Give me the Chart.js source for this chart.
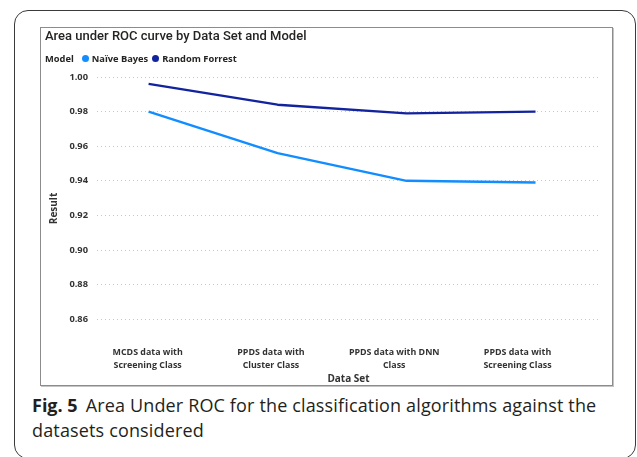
<!DOCTYPE html>
<html>
<head>
<meta charset="utf-8">
<script src="https://cdn.jsdelivr.net/npm/chart.js@4/dist/chart.umd.min.js"></script>
<style>
  html, body { margin: 0; padding: 0; background: #fff; }
  body { width: 637px; height: 457px; position: relative; overflow: hidden; }
  #figure {
    position: absolute; left: 14px; top: 10px; width: 622px; height: 449px;
    border: 1.4px solid #3a3a3a; border-radius: 14px; box-sizing: border-box;
  }
  #panel {
    position: absolute; left: 40px; top: 27px; width: 573px; height: 359px;
    border: 1px solid #8c8c8c; box-shadow: 1px 1px 0 #c4c4c4; box-sizing: border-box;
    background: #fff;
  }
  #title {
    position: absolute; left: 4px; top: 0px;
    font: 500 13px Roboto, sans-serif; color: #252423; white-space: nowrap;
  }
  #legend {
    position: absolute; left: 4px; top: 24px; display: flex; align-items: center;
    font: 700 9.3px "Open Sans", sans-serif; color: #252423; white-space: nowrap;
  }
  #legend .item { display: flex; align-items: center; margin-left: 4px; }
  #legend .dot { width: 7px; height: 7px; border-radius: 50%; margin-right: 3px; }
  #chart { position: absolute; left: 0; top: 0; }
  #caption {
    position: absolute; left: 32px; top: 393px; width: 600px;
    font: 400 18px "Open Sans", sans-serif; color: #231f20; line-height: 25px;
    letter-spacing: 0.15px;
  }
  #caption b { font-weight: 700; margin-right: 8px; letter-spacing: 0; }
</style>
</head>
<body>
<div id="figure"></div>
<div id="panel">
  <canvas id="chart" width="571" height="357"></canvas>
  <div id="title"></div>
  <div id="legend"></div>
</div>
<div id="caption"><b>Fig. 5</b>Area Under ROC for the classification algorithms against the datasets considered</div>
<script>
// Data sets on the x axis (each label split over two lines)
const categories = [
  ["MCDS data with", "Screening Class"],
  ["PPDS data with", "Cluster Class"],
  ["PPDS data with DNN", "Class"],
  ["PPDS data with", "Screening Class"]
];
const seriesNames = ["Naïve Bayes", "Random Forrest"];
const naiveBayes = [0.980, 0.956, 0.940, 0.939];
const randomForrest = [0.996, 0.984, 0.979, 0.980];
const yTicks = [0.86, 0.88, 0.90, 0.92, 0.94, 0.96, 0.98, 1.00];
const seriesColors = ["#118DFF", "#12239E"];

const chartTitle = "Area under ROC curve by Data Set and Model";
const legendTitle = "Model";
const xTitle = "Data Set";
const yTitle = "Result";

document.getElementById("title").textContent = chartTitle;
const legend = document.getElementById("legend");
const lt = document.createElement("span");
lt.textContent = legendTitle;
lt.style.marginRight = "4px";
legend.appendChild(lt);
seriesNames.forEach((name, i) => {
  const it = document.createElement("span");
  it.className = "item";
  const d = document.createElement("span");
  d.className = "dot";
  d.style.background = seriesColors[i];
  it.appendChild(d);
  const t = document.createElement("span");
  t.textContent = name;
  it.appendChild(t);
  legend.appendChild(it);
});

const toPoints = vals => vals.map((v, i) => ({ x: i, y: v }));
const tickFont = { family: "'Open Sans', sans-serif", size: 8.9, weight: "bold", lineHeight: 1.45 };
const axisTitleFont = { family: "'Open Sans', sans-serif", size: 10, weight: "bold" };

new Chart(document.getElementById("chart"), {
  type: "line",
  data: {
    datasets: [
      { label: seriesNames[0], data: toPoints(naiveBayes), borderColor: seriesColors[0] },
      { label: seriesNames[1], data: toPoints(randomForrest), borderColor: seriesColors[1] }
    ]
  },
  options: {
    responsive: false,
    animation: false,
    devicePixelRatio: 1,
    layout: { padding: { left: 0, right: 12, top: 49, bottom: 0 } },
    elements: {
      line: { borderWidth: 2.4, tension: 0, borderCapStyle: "butt", borderJoinStyle: "round" },
      point: { radius: 0, hoverRadius: 0 }
    },
    plugins: { legend: { display: false }, title: { display: false }, tooltip: { enabled: false } },
    scales: {
      // scale the data points are placed on
      x: {
        type: "linear",
        min: -0.4,
        max: 3.5,
        display: false
      },
      // category labels along the bottom, with a slightly tighter spacing
      xLabels: {
        type: "linear",
        position: "bottom",
        min: -0.411,
        max: 3.669,
        grid: { display: false, drawTicks: false },
        border: { display: false },
        afterBuildTicks: scale => { scale.ticks = categories.map((c, i) => ({ value: i })); },
        afterFit: scale => { scale.height = 45; },
        ticks: {
          autoSkip: false,
          maxRotation: 0,
          padding: 6,
          color: "#333",
          font: tickFont,
          callback: v => categories[v]
        },
        title: {
          display: true, text: xTitle, color: "#333",
          font: axisTitleFont,
          padding: { top: 0, bottom: 0 }
        }
      },
      y: {
        min: 0.848,
        max: 1.0,
        grid: { color: "#c8c8c8", lineWidth: 1, drawTicks: false },
        border: { display: false, dash: [1, 3] },
        afterBuildTicks: scale => { scale.ticks = yTicks.map(v => ({ value: v })); },
        afterFit: scale => { scale.width = 56; },
        ticks: {
          padding: 9,
          color: "#333",
          font: { family: "'Open Sans', sans-serif", size: 9.3, weight: "bold" },
          callback: v => v.toFixed(2)
        },
        title: {
          display: true, text: yTitle, color: "#333",
          font: axisTitleFont,
          padding: { top: 7, bottom: 0 }
        }
      }
    }
  }
});
</script>
</body>
</html>
